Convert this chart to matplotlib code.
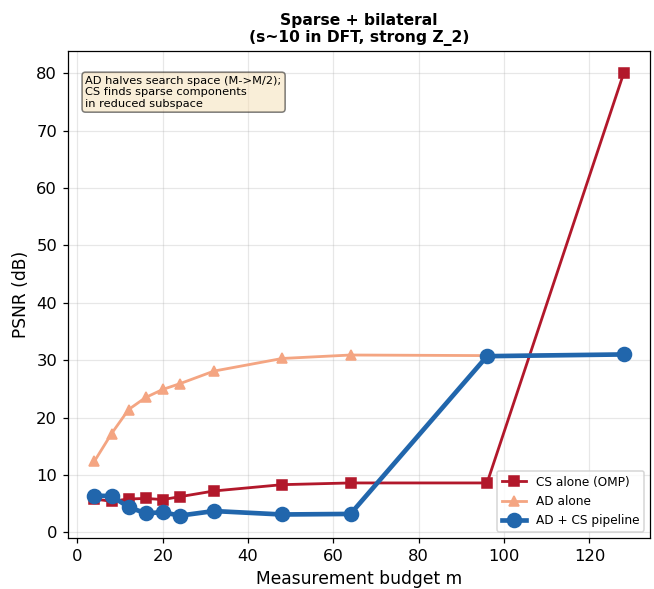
import numpy as np
import matplotlib
matplotlib.use("Agg")
import matplotlib.pyplot as plt


# measurement budgets (x axis)
m_values = [4, 8, 12, 16, 20, 24, 32, 48, 64, 96, 128]

# PSNR (dB) for each method
psnr_cs_alone = [5.8, 5.4, 5.8, 5.9, 5.7, 6.2, 7.2, 8.3, 8.6, 8.6, 80.0]
psnr_ad_alone = [12.4, 17.2, 21.4, 23.5, 24.9, 25.9, 28.1, 30.3, 30.9, 30.8, 31.0]
psnr_pipeline = [6.4, 6.3, 4.4, 3.3, 3.5, 2.9, 3.7, 3.1, 3.2, 30.7, 31.0]

label_cs = "CS alone (OMP)"
label_ad = "AD alone"
label_pipe = "AD + CS pipeline"

NOTE_TEXT = ("AD halves search space (M->M/2);\n"
             "CS finds sparse components\n"
             "in reduced subspace")

DPI = 112


def main():
    fig, ax = plt.subplots(figsize=(654 / DPI, 589 / DPI), dpi=DPI)
    fig.subplots_adjust(left=0.104, right=0.994, bottom=0.087, top=0.913)

    ax.plot(m_values, psnr_cs_alone, "s-", color="#b2182b", lw=1.8,
            ms=7, label=label_cs)
    ax.plot(m_values, psnr_ad_alone, "^-", color="#f4a582", lw=1.8,
            ms=7, label=label_ad)
    ax.plot(m_values, psnr_pipeline, "o-", color="#2166ac", lw=3,
            ms=9, label=label_pipe)

    ax.set_xlabel("Measurement budget m", fontsize=11)
    ax.set_ylabel("PSNR (dB)", fontsize=11)
    ax.set_title("Sparse + bilateral\n(s~10 in DFT, strong Z_2)",
                 fontsize=10, fontweight="bold")
    ax.tick_params(labelsize=10.5)
    ax.grid(True, alpha=0.3)
    ax.legend(loc="lower right", fontsize=7.8)

    ax.text(0.03, 0.95, NOTE_TEXT, transform=ax.transAxes, fontsize=7.3,
            va="top", ha="left",
            bbox=dict(boxstyle="round", facecolor="wheat", alpha=0.5))

    fig.savefig("out.png", dpi=DPI)
    plt.close(fig)


if __name__ == "__main__":
    main()
